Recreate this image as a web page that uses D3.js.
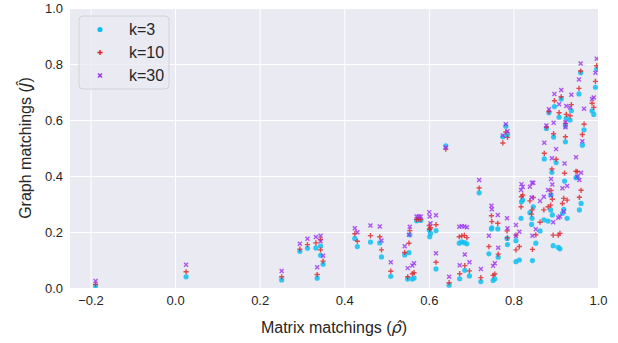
<!DOCTYPE html>
<html>
<head>
<meta charset="utf-8">
<script src="https://cdn.jsdelivr.net/npm/d3@7"></script>
<style>
  body { margin: 0; background: #fff; }
  text { font-family: "Liberation Sans", Arial, sans-serif; }
</style>
</head>
<body>
<div class="scatterChart"></div>
<script>
// values, one entry per matrix
const rho = [-0.188, 0.026, 0.252, 0.295, 0.313, 0.333, 0.344, 0.344, 0.350, 0.336,
  0.425, 0.431, 0.462, 0.484, 0.488, 0.510, 0.543, 0.550, 0.553, 0.555,
  0.561, 0.565, 0.571, 0.576, 0.581, 0.601, 0.602, 0.604, 0.617, 0.617,
  0.640, 0.648, 0.672, 0.678, 0.684, 0.690, 0.685, 0.673, 0.696, 0.719,
  0.723, 0.742, 0.748, 0.749, 0.752, 0.756, 0.763, 0.764, 0.775, 0.782,
  0.786, 0.785, 0.786, 0.806, 0.806, 0.814, 0.818, 0.819, 0.822, 0.839,
  0.843, 0.844, 0.847, 0.845, 0.853, 0.863, 0.872, 0.873, 0.878, 0.882,
  0.884, 0.888, 0.889, 0.891, 0.892, 0.894, 0.895, 0.897, 0.901, 0.906,
  0.908, 0.910, 0.913, 0.916, 0.919, 0.921, 0.923, 0.923, 0.925, 0.927,
  0.934, 0.937, 0.948, 0.951, 0.955, 0.956, 0.959, 0.960, 0.963, 0.967,
  0.986, 0.990, 0.994, 0.997];
const j3 = [0.007, 0.040, 0.029, 0.131, 0.142, 0.143, 0.150, 0.117, 0.085, 0.035,
  0.177, 0.148, 0.164, 0.161, 0.111, 0.042, 0.118, 0.032, 0.126, 0.190,
  0.032, 0.036, 0.240, 0.243, 0.241, 0.207, 0.183, 0.195, 0.205, 0.068,
  0.508, 0.010, 0.160, 0.165, 0.162, 0.158, 0.063, 0.033, 0.043, 0.340,
  0.023, 0.122, 0.211, 0.215, 0.027, 0.033, 0.211, 0.110, 0.540, 0.578,
  0.548, 0.177, 0.155, 0.094, 0.169, 0.100, 0.249, 0.308, 0.314, 0.269,
  0.227, 0.249, 0.290, 0.098, 0.160, 0.204, 0.243, 0.461, 0.570, 0.239,
  0.626, 0.279, 0.332, 0.413, 0.261, 0.151, 0.539, 0.648, 0.448, 0.145,
  0.610, 0.140, 0.675, 0.267, 0.281, 0.382, 0.522, 0.579, 0.606, 0.249,
  0.600, 0.633, 0.394, 0.395, 0.693, 0.279, 0.769, 0.302, 0.510, 0.565,
  0.633, 0.620, 0.717, 0.782];
const j10 = [0.013, 0.058, 0.040, 0.139, 0.155, 0.161, 0.173, 0.136, 0.096, 0.048,
  0.194, 0.167, 0.187, 0.183, 0.136, 0.060, 0.127, 0.040, 0.160, 0.205,
  0.051, 0.055, 0.245, 0.247, 0.245, 0.223, 0.210, 0.215, 0.226, 0.092,
  0.496, 0.019, 0.183, 0.186, 0.188, 0.180, 0.080, 0.051, 0.061, 0.357,
  0.037, 0.148, 0.258, 0.237, 0.045, 0.050, 0.231, 0.121, 0.518, 0.557,
  0.538, 0.204, 0.179, 0.136, 0.189, 0.148, 0.290, 0.326, 0.332, 0.311,
  0.264, 0.279, 0.323, 0.138, 0.190, 0.235, 0.279, 0.481, 0.575, 0.290,
  0.630, 0.296, 0.348, 0.425, 0.317, 0.189, 0.551, 0.669, 0.460, 0.189,
  0.626, 0.195, 0.683, 0.302, 0.320, 0.410, 0.540, 0.588, 0.620, 0.314,
  0.615, 0.655, 0.417, 0.415, 0.713, 0.324, 0.775, 0.349, 0.548, 0.585,
  0.660, 0.645, 0.738, 0.794];
const j30 = [0.025, 0.083, 0.061, 0.158, 0.176, 0.182, 0.187, 0.167, 0.115, 0.074,
  0.213, 0.199, 0.223, 0.220, 0.170, 0.092, 0.149, 0.071, 0.190, 0.219,
  0.080, 0.088, 0.255, 0.255, 0.255, 0.271, 0.255, 0.231, 0.260, 0.124,
  0.502, 0.040, 0.219, 0.221, 0.220, 0.217, 0.120, 0.081, 0.092, 0.386,
  0.068, 0.187, 0.294, 0.281, 0.079, 0.088, 0.261, 0.144, 0.545, 0.585,
  0.560, 0.249, 0.213, 0.187, 0.225, 0.201, 0.350, 0.371, 0.362, 0.362,
  0.323, 0.376, 0.376, 0.187, 0.210, 0.311, 0.326, 0.519, 0.580, 0.350,
  0.638, 0.332, 0.389, 0.463, 0.370, 0.235, 0.590, 0.693, 0.496, 0.251,
  0.656, 0.255, 0.707, 0.356, 0.273, 0.445, 0.574, 0.592, 0.650, 0.364,
  0.645, 0.690, 0.467, 0.398, 0.745, 0.386, 0.802, 0.412, 0.524, 0.640,
  0.675, 0.680, 0.769, 0.819];

const seriesNames = ["k=3", "k=10", "k=30"];
const seriesColors = ["#10bff2", "#dc2228", "#9a2ff0"];
const xTicks = [-0.2, 0, 0.2, 0.4, 0.6, 0.8, 1.0];
const yTicks = [0, 0.2, 0.4, 0.6, 0.8, 1.0];

// -1- svg + plot area
const W = 618, H = 343;
const margin = { left: 70, right: 20, top: 8, bottom: 55 };
const width = W - margin.left - margin.right;
const height = H - margin.top - margin.bottom;

const svg = d3.select(".scatterChart").append("svg")
  .attr("width", W).attr("height", H);
const g = svg.append("g")
  .attr("transform", `translate(${margin.left},${margin.top})`);

const x = d3.scaleLinear().domain([-0.2485, 1.0]).range([0, width]);
const y = d3.scaleLinear().domain([0, 1.0]).range([height, 0]);

g.append("rect").attr("width", width).attr("height", height).attr("fill", "#eaeaf2");

// -2- grid + tick labels
const fmt = d3.format(".1f");
const xAxis = g.append("g")
  .attr("transform", `translate(0,${height})`)
  .call(d3.axisBottom(x).tickValues(xTicks).tickFormat(fmt).tickSize(-height).tickPadding(8));
const yAxis = g.append("g")
  .call(d3.axisLeft(y).tickValues(yTicks).tickFormat(fmt).tickSize(-width).tickPadding(7));
[xAxis, yAxis].forEach((a) => {
  a.select(".domain").remove();
  a.selectAll("line").attr("stroke", "#fff").attr("stroke-width", 1);
  a.selectAll("text").attr("fill", "#262626").style("font-size", "13px");
});

// -3- points
svg.append("clipPath").attr("id", "plotClip")
  .append("rect").attr("width", width).attr("height", height);
const pts = g.append("g").attr("clip-path", "url(#plotClip)");

const markerPath = [
  null,
  "M-2.6,0H2.6M0,-2.6V2.6",
  "M-2,-2L2,2M-2,2L2,-2",
];
const drawSeries = (vals, i) => {
  const sel = pts.append("g").selectAll("g")
    .data(rho.map((r, k) => ({ r, v: vals[k] })))
    .enter();
  if (i === 0) {
    sel.append("circle")
      .attr("cx", (d) => x(d.r)).attr("cy", (d) => y(d.v))
      .attr("r", 2.6).attr("fill", seriesColors[i]).attr("opacity", 0.85);
  } else {
    sel.append("path")
      .attr("d", markerPath[i])
      .attr("transform", (d) => `translate(${x(d.r)},${y(d.v)})`)
      .attr("stroke", seriesColors[i]).attr("stroke-width", 1.4)
      .attr("fill", "none").attr("opacity", 0.8);
  }
};
[j3, j10, j30].forEach(drawSeries);

// -4- axis labels (math symbols in DejaVu like matplotlib mathtext)
svg.append("text")
  .attr("x", margin.left + width / 2).attr("y", 333)
  .attr("text-anchor", "middle").style("font-size", "16px").attr("fill", "#262626")
  .html('Matrix matchings (<tspan font-family="DejaVu Sans" font-style="italic">ρ̂</tspan>)');
svg.append("text")
  .attr("transform", `translate(31,${margin.top + height / 2}) rotate(-90)`)
  .attr("text-anchor", "middle").style("font-size", "16px").attr("fill", "#262626")
  .html('Graph matchings (<tspan font-family="DejaVu Sans" font-style="italic">Ĵ</tspan>)');

// -5- legend
const leg = svg.append("g").attr("transform", "translate(79,16)");
leg.append("rect").attr("width", 90).attr("height", 73).attr("rx", 4)
  .attr("fill", "#eaeaf2").attr("fill-opacity", 0.8)
  .attr("stroke", "#d2d2d8").attr("stroke-width", 1);
seriesNames.forEach((name, i) => {
  const row = leg.append("g").attr("transform", `translate(21,${13.5 + i * 23})`);
  if (i === 0) row.append("circle").attr("r", 2.6).attr("fill", seriesColors[i]);
  else row.append("path").attr("d", markerPath[i]).attr("stroke", seriesColors[i])
    .attr("stroke-width", 1.4).attr("fill", "none");
  row.append("text").attr("x", 29).attr("dy", "0.35em")
    .style("font-size", "16px").attr("fill", "#262626").text(name);
});
</script>
</body>
</html>
